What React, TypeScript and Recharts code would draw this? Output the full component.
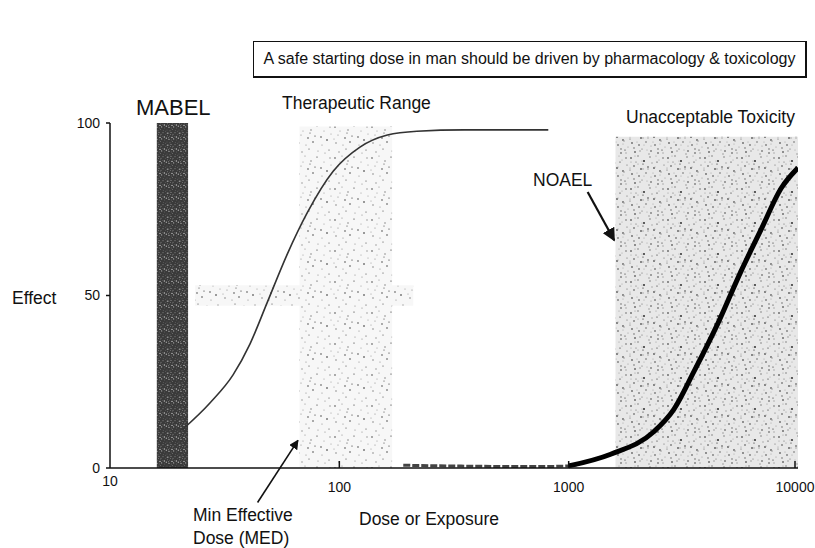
import React from 'react';
import {
  LineChart,
  Line,
  XAxis,
  YAxis,
  ReferenceArea,
  ReferenceLine,
} from 'recharts';

// efficacy (pharmacology) curve
const efficacyDose = [20.6, 27.4, 34.4, 40.8, 48.5, 59.3, 72.5, 94, 123, 162, 218, 350, 550, 815];
const efficacyEffect = [11, 19, 27, 36, 48, 62, 74, 86, 93, 96.5, 97.6, 98, 98, 98];

// toxicity curve: faint tail then thick rise
const toxTailDose = [190, 400, 700, 1000, 1150];
const toxTailEffect = [0.8, 0.5, 0.4, 0.6, 1.5];
const toxDose = [1000, 1525, 2350, 2875, 3520, 4480, 5640, 6890, 8430, 10000];
const toxEffect = [0.6, 4, 10.5, 17, 28, 42, 57, 69, 81, 87];

// shaded regions [doseFrom, doseTo, effectFrom, effectTo]
const mabelRange = [16, 21.9, 0, 100];
const therapeuticRange = [67, 170, 0, 99];
const therapeuticMid = [23.5, 210, 47, 53];
const toxicRange = [1600, 10000, 0, 96];

// annotation arrows [doseFrom, effectFrom, doseTo, effectTo]
const medArrow = [44, -10, 66, 8];
const noaelArrow = [1210, 80, 1580, 66];

const xTicks = [10, 100, 1000, 10000];
const yTicks = [0, 50, 100];

const zip = (xs: number[], ys: number[]) => xs.map((dose, i) => ({ dose, effect: ys[i] }));

const efficacyData = zip(efficacyDose, efficacyEffect);
const toxTailData = zip(toxTailDose, toxTailEffect);
const toxData = zip(toxDose, toxEffect);

const FONT = '"Liberation Sans", Arial, sans-serif';

// speckle tile used for the stippled bands (x, y, r) in a 37x31 tile
const speckle: [number, number, number][] = [
  [2, 3, 0.7], [9, 1, 0.6], [15, 6, 0.8], [21, 2, 0.6], [5, 11, 0.6], [12, 14, 0.9],
  [19, 12, 0.6], [3, 19, 0.8], [10, 21, 0.6], [17, 18, 0.7], [22, 27, 0.6], [7, 7, 0.5],
  [14, 9, 0.5], [1, 15, 0.5], [28, 7, 0.5], [31, 16, 0.8], [26, 21, 0.6], [34, 3, 0.7],
  [33, 26, 0.5], [25, 13, 0.9], [6, 28, 0.7], [13, 25, 0.5], [29, 29, 0.6], [35, 10, 0.5],
];

const XTick = (props: any) => {
  const { x, y, payload } = props;
  const v = payload.value;
  return (
    <g>
      {v > 10 && <line x1={x} x2={x} y1={y - 8} y2={y - 15} stroke="#111" strokeWidth={1.5} />}
      <text x={x} y={y + (v === 10 ? 0 : 6)} dy="0.71em" textAnchor="middle" fontSize={14} fill="#111" fontFamily={FONT}>
        {v}
      </text>
    </g>
  );
};

const text = (s: string, left: number, top: number, size: number, extra: React.CSSProperties = {}) => (
  <div
    style={{
      position: 'absolute',
      left,
      top,
      fontSize: size,
      fontFamily: FONT,
      color: '#111',
      whiteSpace: 'nowrap',
      lineHeight: 1,
      ...extra,
    }}
  >
    {s}
  </div>
);

export default function App() {
  return (
    <div style={{ position: 'absolute', left: 0, top: 0, width: 815, height: 548, background: '#fff' }}>
      <LineChart
        width={815}
        height={548}
        margin={{ top: 123, right: 17, bottom: 50, left: 0 }}
        style={{ fontFamily: FONT }}
      >
        <defs>
          <pattern id="light" width="37" height="31" patternUnits="userSpaceOnUse">
            <rect width="37" height="31" fill="#f7f7f7" />
            {speckle.map(([cx, cy, r], i) => (
              <circle key={i} cx={cx} cy={cy} r={r} fill={i % 3 ? '#888' : '#222'} />
            ))}
          </pattern>
          <pattern id="dense" width="37" height="31" patternUnits="userSpaceOnUse">
            <rect width="37" height="31" fill="#e8e8e8" />
            {speckle.map(([cx, cy, r], i) => (
              <circle key={i} cx={cx} cy={cy} r={r + 0.1} fill={i % 2 ? '#666' : '#1a1a1a'} />
            ))}
            {speckle.map(([cx, cy, r], i) => (
              <circle key={'b' + i} cx={(cx + 17) % 37} cy={(cy + 11) % 31} r={r} fill="#999" />
            ))}
          </pattern>
          <pattern id="dark" width="12" height="12" patternUnits="userSpaceOnUse">
            <rect width="12" height="12" fill="#3a3a3a" />
            {speckle.map(([cx, cy, r], i) => (
              <circle key={i} cx={(cx / 3) % 12} cy={(cy / 2.6) % 12} r={r * 0.8} fill={i % 2 ? '#bbb' : '#777'} />
            ))}
          </pattern>
          <marker id="arrow" viewBox="0 0 10 10" refX="9" refY="5" markerWidth="6" markerHeight="6" orient="auto">
            <path d="M0,0 L10,5 L0,10 z" fill="#111" />
          </marker>
        </defs>

        <XAxis
          dataKey="dose"
          type="number"
          scale="log"
          domain={[10, 10000]}
          ticks={xTicks}
          allowDataOverflow
          height={30}
          tickLine={false}
          tick={<XTick />}
          stroke="#111"
          strokeWidth={1.5}
        />
        <YAxis
          dataKey="effect"
          type="number"
          domain={[0, 100]}
          ticks={yTicks}
          width={110}
          tickSize={4}
          tickMargin={6}
          stroke="#111"
          strokeWidth={1.5}
          tick={{ fontSize: 14, fill: '#111', fontFamily: FONT }}
        />

        <ReferenceArea x1={therapeuticRange[0]} x2={therapeuticRange[1]} y1={therapeuticRange[2]} y2={therapeuticRange[3]} fill="url(#light)" fillOpacity={1} stroke="none" />
        <ReferenceArea x1={therapeuticMid[0]} x2={therapeuticMid[1]} y1={therapeuticMid[2]} y2={therapeuticMid[3]} fill="url(#light)" fillOpacity={1} stroke="none" />
        <ReferenceArea x1={toxicRange[0]} x2={toxicRange[1]} y1={toxicRange[2]} y2={toxicRange[3]} fill="url(#dense)" fillOpacity={1} stroke="none" />
        <ReferenceArea x1={mabelRange[0]} x2={mabelRange[1]} y1={mabelRange[2]} y2={mabelRange[3]} fill="url(#dark)" fillOpacity={1} stroke="none" />

        <Line data={efficacyData} dataKey="effect" type="monotone" stroke="#333" strokeWidth={1.6} dot={false} isAnimationActive={false} />
        <Line data={toxTailData} dataKey="effect" type="monotone" stroke="#444" strokeWidth={3} strokeDasharray="7 2" dot={false} isAnimationActive={false} />
        <Line data={toxData} dataKey="effect" type="monotone" stroke="#000" strokeWidth={5} dot={false} isAnimationActive={false} />

        <ReferenceLine
          segment={[{ x: medArrow[0], y: medArrow[1] }, { x: medArrow[2], y: medArrow[3] }]}
          stroke="#111"
          strokeWidth={1.6}
          markerEnd="url(#arrow)"
          ifOverflow="visible"
        />
        <ReferenceLine
          segment={[{ x: noaelArrow[0], y: noaelArrow[1] }, { x: noaelArrow[2], y: noaelArrow[3] }]}
          stroke="#111"
          strokeWidth={2.2}
          markerEnd="url(#arrow)"
          ifOverflow="visible"
        />
      </LineChart>

      <div
        style={{
          position: 'absolute',
          left: 253,
          top: 41,
          width: 551,
          height: 34,
          borderTop: '1.5px solid #111',
          borderLeft: '1.5px solid #111',
          borderRight: '2px solid #111',
          borderBottom: '2px solid #111',
          display: 'flex',
          alignItems: 'center',
          justifyContent: 'center',
          fontSize: 16,
          fontFamily: FONT,
          color: '#111',
          whiteSpace: 'nowrap',
        }}
      >
        A safe starting dose in man should be driven by pharmacology &amp; toxicology
      </div>

      {text('MABEL', 136, 97, 22)}
      {text('Therapeutic Range', 282, 95, 17.5)}
      {text('Unacceptable Toxicity', 626, 109, 17.5)}
      {text('Effect', 12, 290, 17.5)}
      {text('NOAEL', 533, 172, 17.5)}
      {text('Min Effective', 193, 507, 17.5)}
      {text('Dose (MED)', 193, 530, 17.5)}
      {text('Dose or Exposure', 359, 511, 17.5)}
    </div>
  );
}
